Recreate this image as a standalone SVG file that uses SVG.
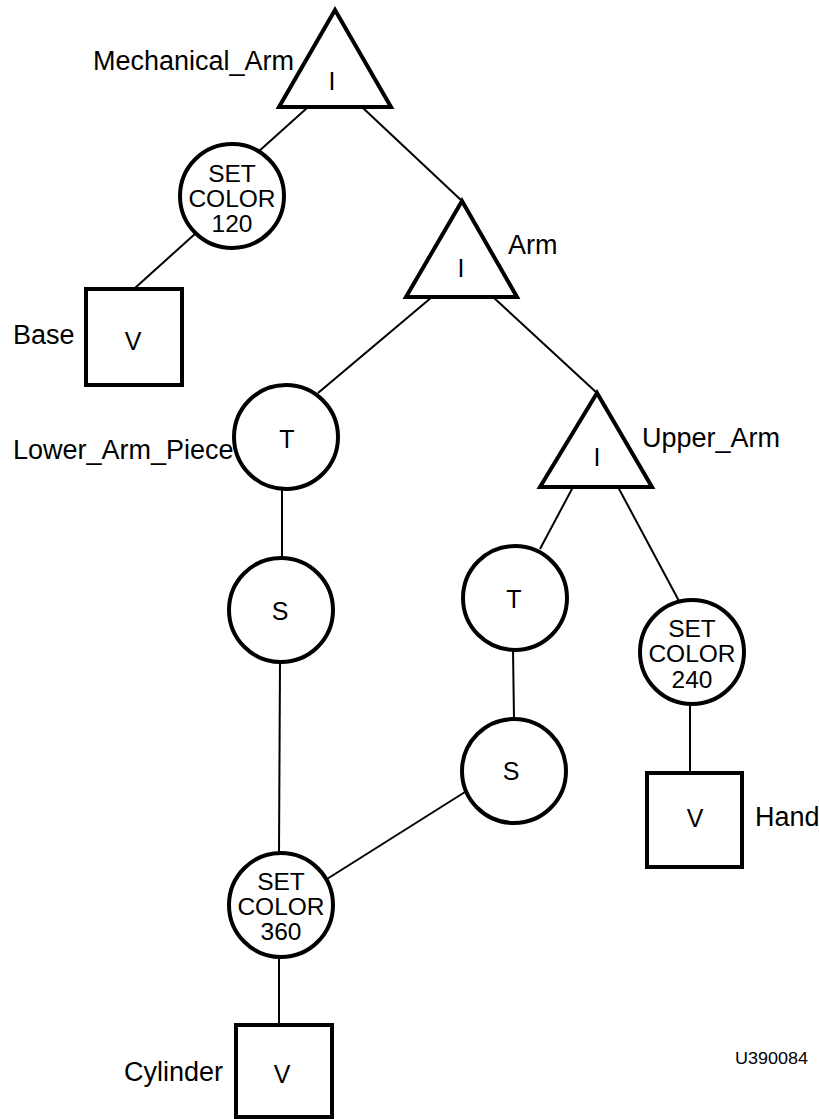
<svg xmlns="http://www.w3.org/2000/svg" width="819" height="1119" viewBox="0 0 819 1119">
<style>
.shape{fill:#fff;stroke:#000;stroke-width:4;stroke-linejoin:miter}
.conn line{stroke:#000;stroke-width:2}
text{font-family:"Liberation Sans",Arial,sans-serif;fill:#000}
.lbl{font-size:27px}
.sym{font-size:25px;text-anchor:middle}
.sc{font-size:24.5px;text-anchor:middle}
.code{font-size:16px}
</style>
<rect width="819" height="1119" fill="#fff"/>
<g id="connectors" class="conn">
<line x1="307" y1="108" x2="258" y2="152"/>
<line x1="196" y1="233" x2="135" y2="288"/>
<line x1="363" y1="108" x2="462" y2="201"/>
<line x1="432" y1="297" x2="318" y2="393"/>
<line x1="493" y1="297" x2="597" y2="393"/>
<line x1="282" y1="489" x2="282" y2="558"/>
<line x1="280" y1="662" x2="279" y2="854"/>
<line x1="279" y1="956" x2="279" y2="1024"/>
<line x1="573" y1="487" x2="540" y2="549"/>
<line x1="618" y1="487" x2="679" y2="601"/>
<line x1="513" y1="649" x2="514" y2="720"/>
<line x1="465" y1="792" x2="327" y2="879"/>
<line x1="690" y1="703" x2="690" y2="773"/>
</g>
<g id="mechanical_arm">
<polygon class="shape" points="335,10 279,107 391,107"/>
<text class="sym" x="332" y="90">I</text>
<text class="lbl" x="93" y="70">Mechanical_Arm</text>
</g>
<g id="setcolor120">
<circle class="shape" cx="232" cy="196" r="52"/>
<text class="sc" x="232" y="182">SET</text>
<text class="sc" x="232" y="207">COLOR</text>
<text class="sc" x="232" y="232">120</text>
</g>
<g id="base">
<rect class="shape" x="86" y="289" width="96" height="96"/>
<text class="sym" x="133" y="350">V</text>
<text class="lbl" x="13" y="344">Base</text>
</g>
<g id="arm">
<polygon class="shape" points="462,201 406,297 517,297"/>
<text class="sym" x="461" y="277">I</text>
<text class="lbl" x="508" y="254">Arm</text>
</g>
<g id="lower_arm_piece">
<circle class="shape" cx="286" cy="437" r="52"/>
<text class="sym" x="287" y="448">T</text>
<text class="lbl" x="13" y="459">Lower_Arm_Piece</text>
</g>
<g id="upper_arm">
<polygon class="shape" points="597,393 540,487 652,487"/>
<text class="sym" x="597" y="466">I</text>
<text class="lbl" x="642" y="447">Upper_Arm</text>
</g>
<g id="s_lower">
<circle class="shape" cx="281" cy="610" r="52"/>
<text class="sym" x="280" y="620">S</text>
</g>
<g id="t_upper">
<circle class="shape" cx="515" cy="598" r="52"/>
<text class="sym" x="514" y="608">T</text>
</g>
<g id="setcolor240">
<circle class="shape" cx="692" cy="652" r="52"/>
<text class="sc" x="692" y="637">SET</text>
<text class="sc" x="692" y="662">COLOR</text>
<text class="sc" x="692" y="688">240</text>
</g>
<g id="s_upper">
<circle class="shape" cx="514" cy="771" r="52"/>
<text class="sym" x="511" y="780">S</text>
</g>
<g id="hand">
<rect class="shape" x="647" y="773" width="95" height="94"/>
<text class="sym" x="695" y="827">V</text>
<text class="lbl" x="755" y="826">Hand</text>
</g>
<g id="setcolor360">
<circle class="shape" cx="281" cy="905" r="52"/>
<text class="sc" x="281" y="890">SET</text>
<text class="sc" x="281" y="915">COLOR</text>
<text class="sc" x="281" y="940">360</text>
</g>
<g id="cylinder">
<rect class="shape" x="236" y="1025" width="96" height="92"/>
<text class="sym" x="282" y="1083">V</text>
<text class="lbl" x="124" y="1081">Cylinder</text>
</g>
<text class="code" x="735" y="1064" textLength="73" lengthAdjust="spacingAndGlyphs">U390084</text>
</svg>
